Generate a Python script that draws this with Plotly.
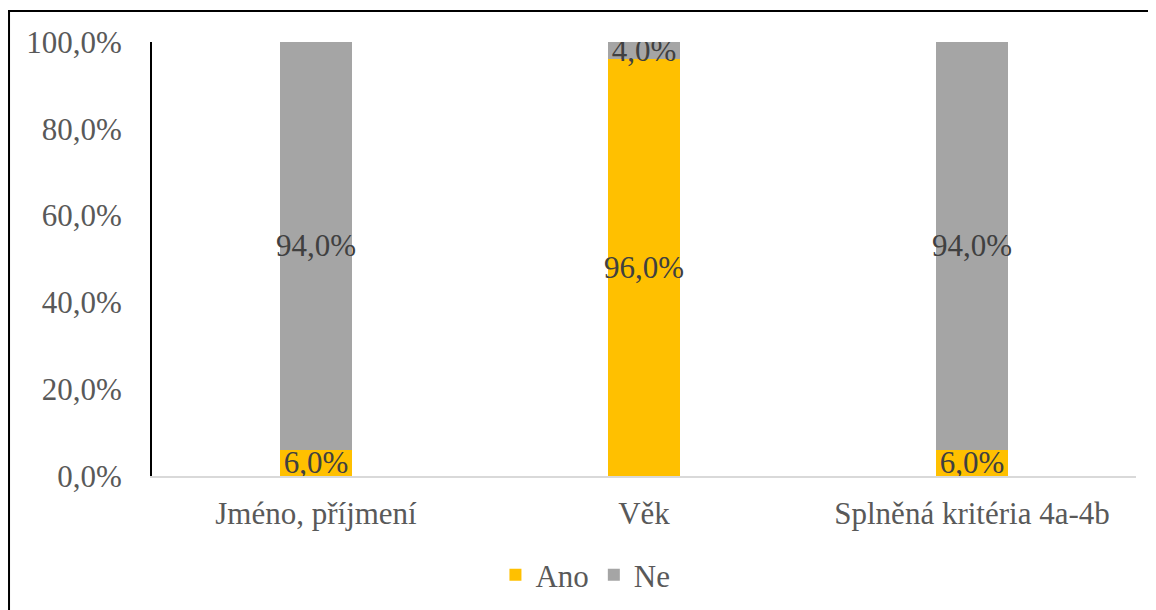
# Stacked percentage bar chart: Ano / Ne per criterion
import plotly.graph_objects as go

# Data
categories = ["Jméno, příjmení", "Věk", "Splněná kritéria 4a-4b"]
ano = [0.06, 0.96, 0.06]
ne = [0.94, 0.04, 0.94]
y_ticks = [0, 0.2, 0.4, 0.6, 0.8, 1.0]

font_family = "Liberation Serif"

fig = go.Figure()

for name, vals, color in [("Ano", ano, "#FFC000"), ("Ne", ne, "#A5A5A5")]:
    fig.add_trace(go.Bar(
        name=name, x=categories, y=vals,
        marker=dict(color=color, line=dict(width=0)),
        texttemplate="%{y:.1%}", textposition="inside", insidetextanchor="middle",
        textangle=0, constraintext="none",
        textfont=dict(family=font_family, size=31, color="#404040"),
        hoverinfo="skip",
    ))

# Outer chart border (top and left visible, rest off the image)
fig.add_shape(type="rect", xref="paper", yref="paper",
              x0=-0.1453, x1=1.05, y0=-0.45, y1=1.0714,
              line=dict(color="#000000", width=2), layer="above")

# page body adds 8px offset, so the figure is a bit smaller
fig.update_layout(
    barmode="stack",
    bargap=0.783,
    separators=", ",
    width=1148, height=602,
    margin=dict(l=144, r=20, t=34, b=134, autoexpand=False),
    paper_bgcolor="white",
    plot_bgcolor="white",
    font=dict(family=font_family, size=31, color="#595959"),
    showlegend=True,
    legend=dict(orientation="h", xref="container", yref="container",
                x=0.503, xanchor="center", y=0.058, yanchor="middle",
                font=dict(family=font_family, size=31, color="#595959"),
                traceorder="normal", itemwidth=30),
    xaxis=dict(
        showgrid=False, automargin=False,
        showline=True, linecolor="#D9D9D9", linewidth=1.5,
        ticks="", tickfont=dict(family=font_family, size=31, color="#595959"),
        ticklabelstandoff=9,
    ),
    yaxis=dict(
        range=[0, 1.0], tickvals=y_ticks, tickformat=".1%", automargin=False,
        showgrid=False, zeroline=False,
        showline=True, linecolor="#000000", linewidth=2,
        ticks="", tickfont=dict(family=font_family, size=31, color="#595959"),
        ticklabelstandoff=22,
    ),
)

fig.write_html("out.html")
